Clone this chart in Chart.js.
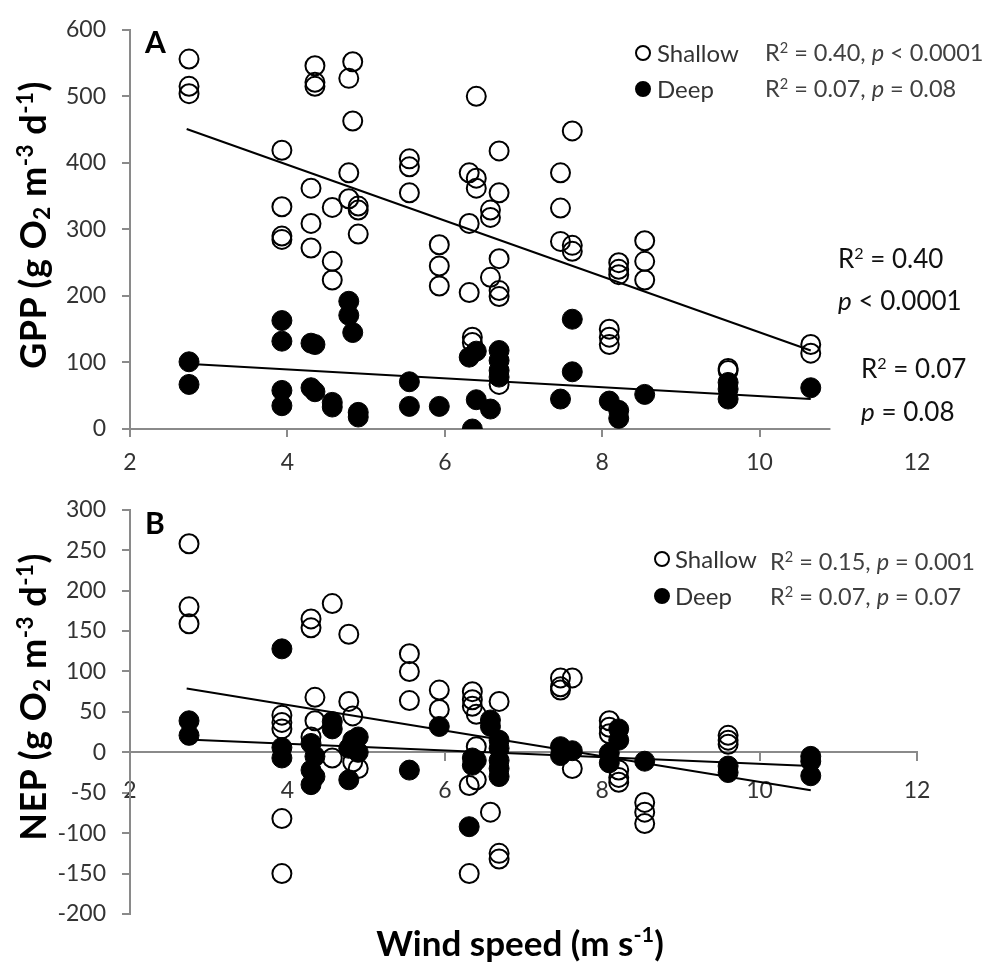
<!DOCTYPE html>
<html>
<head>
<meta charset="utf-8">
<script src="https://cdn.jsdelivr.net/npm/chart.js@4.4.0/dist/chart.umd.min.js"></script>
<style>
  body { margin: 0; background: #fff; font-family: Lato, sans-serif; }
  #wrap { position: relative; width: 992px; height: 963px; overflow: hidden; }
  canvas { position: absolute; left: 0; }
  .t { position: absolute; white-space: nowrap; color: #262626; line-height: 1; transform: translateY(-50%); }
  .t sup { font-size: 0.62em; vertical-align: 0.55em; line-height: 0; }
  .leg { font-size: 24px; color: #333; }
  .stat { font-size: 23.5px; color: #404040; }
  .big { font-size: 26px; color: #111; }
  .bold { font-weight: bold; color: #000; }
  .dot { position: absolute; width: 12px; height: 12px; border: 2px solid #000; border-radius: 50%; transform: translate(-50%, -50%); }
  .dot.fill { background: #000; }
  .ytitle { position: absolute; white-space: nowrap; font-weight: bold; font-size: 36px; letter-spacing: 0.5px; line-height: 1; transform: translate(-50%, -50%) rotate(-90deg); }
  .ytitle sup, .ytitle sub, .xtitle sup { font-size: 0.62em; line-height: 0; }
  .ytitle sup, .xtitle sup { vertical-align: 0.6em; }
  .ytitle sub { vertical-align: -0.2em; }
  .xtitle { position: absolute; white-space: nowrap; font-weight: bold; font-size: 35px; line-height: 1; transform: translate(-50%, -50%); }
</style>
</head>
<body>
<div id="wrap">
  <canvas id="gpp" width="992" height="480" style="top:0"></canvas>
  <canvas id="nep" width="992" height="483" style="top:480px"></canvas>

  <div class="t bold" style="left:145px; top:41px; font-size:30px">A</div>
  <div class="dot" style="left:643px; top:53px"></div>
  <div class="t leg" style="left:657px; top:53px">Shallow</div>
  <div class="dot fill" style="left:643px; top:89px"></div>
  <div class="t leg" style="left:657px; top:89px">Deep</div>
  <div class="t stat" style="left:765px; top:53px">R<sup>2</sup> = 0.40, <i>p</i> &lt; 0.0001</div>
  <div class="t stat" style="left:765px; top:89px">R<sup>2</sup> = 0.07, <i>p</i> = 0.08</div>
  <div class="t big" style="left:838px; top:258px">R<sup>2</sup> = 0.40</div>
  <div class="t big" style="left:838px; top:300px"><i>p</i> &lt; 0.0001</div>
  <div class="t big" style="left:861px; top:368px">R<sup>2</sup> = 0.07</div>
  <div class="t big" style="left:861px; top:411px"><i>p</i> = 0.08</div>

  <div class="t bold" style="left:145px; top:522px; font-size:30px">B</div>
  <div class="dot" style="left:662px; top:559px"></div>
  <div class="t leg" style="left:675px; top:559px">Shallow</div>
  <div class="dot fill" style="left:662px; top:596px"></div>
  <div class="t leg" style="left:675px; top:596px">Deep</div>
  <div class="t stat" style="left:770px; top:562px">R<sup>2</sup> = 0.15, <i>p</i> = 0.001</div>
  <div class="t stat" style="left:770px; top:597px">R<sup>2</sup> = 0.07, <i>p</i> = 0.07</div>

  <div class="ytitle" style="left:32px; top:225px">GPP (g O<sub>2</sub> m<sup>-3</sup> d<sup>-1</sup>)</div>
  <div class="ytitle" style="left:32px; top:697px">NEP (g O<sub>2</sub> m<sup>-3</sup> d<sup>-1</sup>)</div>
  <div class="xtitle" style="left:520px; top:942px">Wind speed (m s<sup>-1</sup>)</div>
</div>

<script>
// wind speed (m s-1) of each point, and the measured value at that wind speed
const gppShallowWind = [2.75, 2.75, 2.75, 3.93, 3.93, 3.93, 3.93, 4.3, 4.3, 4.3, 4.35, 4.35, 4.35,
  4.57, 4.57, 4.57, 4.78, 4.78, 4.78, 4.83, 4.83, 4.9, 4.9, 4.9, 5.55, 5.55, 5.55, 5.93, 5.93, 5.93,
  6.31, 6.31, 6.31, 6.35, 6.35, 6.4, 6.4, 6.4, 6.58, 6.58, 6.58, 6.69, 6.69, 6.69, 6.69, 6.69, 6.69,
  7.47, 7.47, 7.47, 7.62, 7.62, 7.62, 8.09, 8.09, 8.09, 8.21, 8.21, 8.21, 8.54, 8.54, 8.54,
  9.6, 9.6, 10.65, 10.65];
const gppShallow = [556, 515, 504, 419, 334, 290, 285, 362, 309, 272, 546, 521, 515,
  333, 252, 224, 527, 385, 346, 552, 463, 335, 329, 293, 406, 394, 355, 277, 245, 215,
  385, 309, 205, 138, 130, 500, 377, 362, 329, 318, 228, 418, 355, 256, 208, 199, 67,
  385, 332, 282, 448, 276, 267, 150, 138, 127, 250, 240, 232, 283, 252, 224,
  91, 88, 127, 114];

const gppDeepWind = [2.75, 2.75, 3.93, 3.93, 3.93, 3.93, 4.3, 4.3, 4.35, 4.35, 4.57, 4.57,
  4.78, 4.78, 4.83, 4.9, 4.9, 5.55, 5.55, 5.93, 6.31, 6.35, 6.4, 6.4, 6.58,
  6.69, 6.69, 6.69, 6.69, 7.47, 7.62, 7.62, 8.09, 8.21, 8.21, 8.54, 9.6, 9.6, 9.6, 10.65];
const gppDeep = [101, 67, 163, 132, 58, 35, 129, 62, 127, 56, 40, 33,
  192, 171, 145, 25, 18, 71, 34, 34, 108, 0, 117, 44, 30,
  118, 103, 88, 78, 45, 165, 86, 42, 28, 16, 52, 70, 60, 45, 62];

const nepShallowWind = [2.75, 2.75, 2.75, 3.93, 3.93, 3.93, 3.93, 3.93, 4.3, 4.3, 4.3, 4.35, 4.35,
  4.57, 4.57, 4.78, 4.78, 4.83, 4.83, 4.9, 5.55, 5.55, 5.55, 5.93, 5.93, 6.31, 6.31,
  6.35, 6.35, 6.35, 6.4, 6.4, 6.4, 6.58, 6.69, 6.69, 6.69, 7.47, 7.47, 7.47, 7.62, 7.62,
  8.09, 8.09, 8.09, 8.21, 8.21, 8.21, 8.54, 8.54, 8.54, 9.6, 9.6, 9.6];
const nepShallow = [258, 180, 159, 46, 37, 29, -82, -150, 165, 154, 19, 68, 39,
  184, -7, 146, 63, 45, -12, -20, 122, 100, 64, 77, 53, -41, -150,
  75, 65, 57, 47, 7, -34, -74, 63, -125, -132, 92, 81, 77, 92, -20,
  39, 31, 23, -22, -31, -37, -62, -74, -88, 21, 15, 10];

const nepDeepWind = [2.75, 2.75, 3.93, 3.93, 3.93, 4.3, 4.3, 4.3, 4.35, 4.35, 4.57, 4.57,
  4.78, 4.78, 4.83, 4.83, 4.9, 4.9, 5.55, 5.93, 6.31, 6.35, 6.35, 6.4, 6.58, 6.58,
  6.69, 6.69, 6.69, 6.69, 6.69, 7.47, 7.47, 7.62, 8.09, 8.09, 8.21, 8.21, 8.54,
  9.6, 9.6, 10.65, 10.65, 10.65];
const nepDeep = [39, 21, 128, 6, -7, 11, -22, -40, -5, -30, 38, 29,
  5, -34, 15, 10, 19, 0, -22, 32, -92, -7, -16, -10, 40, 32,
  15, 5, -10, -20, -30, 7, -4, 2, -1, -13, 29, 15, -11,
  -17, -25, -5, -11, -29];

// linear fits, start and end of each line
const fitWind = [2.72, 10.65];
const gppFitShallow = [451, 118];
const gppFitDeep = [98, 45];
const nepFitShallow = [79, -47];
const nepFitDeep = [16, -17];

const xTicks = [2, 4, 6, 8, 10, 12];

const GREY = '#8a8a8a';
const TICK_COLOR = '#333';

function pts(xs, ys) {
  return xs.map((x, i) => ({ x: x, y: ys[i] }));
}

// panel A has its x axis line stopping short of 12
const partialAxis = {
  id: 'partialAxis',
  beforeDatasetsDraw(chart, args, opts) {
    if (!opts.end) return;
    const { ctx, scales: { x, y } } = chart;
    const yy = y.getPixelForValue(0);
    ctx.save();
    ctx.strokeStyle = GREY;
    ctx.lineWidth = 2;
    ctx.beginPath();
    ctx.moveTo(x.left, yy);
    ctx.lineTo(x.getPixelForValue(opts.end), yy);
    ctx.stroke();
    ctx.restore();
  }
};

function makePanel(id, p) {
  return new Chart(document.getElementById(id), {
    type: 'scatter',
    data: {
      datasets: [
        { type: 'line', data: pts(fitWind, p.fitShallow), borderColor: '#000', borderWidth: 2, pointRadius: 0, order: 0 },
        { type: 'line', data: pts(fitWind, p.fitDeep), borderColor: '#000', borderWidth: 2, pointRadius: 0, order: 0 },
        { label: 'Deep', data: pts(p.deepX, p.deepY), pointRadius: 10, pointBorderWidth: 1,
          pointBorderColor: '#000', pointBackgroundColor: '#000', order: 1 },
        { label: 'Shallow', data: pts(p.shallowX, p.shallowY), pointRadius: 9.5, pointBorderWidth: 2,
          pointBorderColor: '#000', pointBackgroundColor: 'rgba(0,0,0,0)', order: 2 }
      ]
    },
    options: {
      responsive: false,
      animation: false,
      layout: { padding: p.padding },
      plugins: {
        legend: { display: false },
        tooltip: { enabled: false },
        partialAxis: { end: p.axisEnd }
      },
      scales: {
        x: {
          type: 'linear',
          min: 2,
          max: 12,
          position: p.xPosition,
          afterBuildTicks: s => { s.ticks = xTicks.map(v => ({ value: v })); },
          ticks: { font: { family: 'Lato', size: 23 }, color: TICK_COLOR, padding: p.xPad, maxRotation: 0 },
          grid: {
            drawOnChartArea: false,
            tickLength: 8,
            lineWidth: 2,
            color: c => (c.tick && c.tick.value > p.lastTick) ? 'rgba(0,0,0,0)' : GREY
          },
          border: { display: !p.axisEnd, color: GREY, width: 2 },
          afterFit: s => { if (p.xHeight) s.height = p.xHeight; }
        },
        y: {
          min: p.yMin,
          max: p.yMax,
          ticks: { stepSize: p.yStep, font: { family: 'Lato', size: 23 }, color: TICK_COLOR, padding: 16 },
          grid: { drawOnChartArea: false, tickLength: 8, lineWidth: 2, color: GREY },
          border: { color: GREY, width: 2 },
          afterFit: s => { s.width = 130; }
        }
      }
    },
    plugins: [partialAxis]
  });
}

makePanel('gpp', {
  shallowX: gppShallowWind, shallowY: gppShallow,
  deepX: gppDeepWind, deepY: gppDeep,
  fitShallow: gppFitShallow, fitDeep: gppFitDeep,
  yMin: 0, yMax: 600, yStep: 100,
  padding: { top: 20, right: 75, bottom: 0, left: 0 },
  xPosition: 'bottom', xHeight: 51, xPad: 12,
  axisEnd: 10.9, lastTick: 10
});

makePanel('nep', {
  shallowX: nepShallowWind, shallowY: nepShallow,
  deepX: nepDeepWind, deepY: nepDeep,
  fitShallow: nepFitShallow, fitDeep: nepFitDeep,
  yMin: -200, yMax: 300, yStep: 50,
  padding: { top: 23, right: 75, bottom: 49, left: 0 },
  xPosition: { y: 0 }, xHeight: 0, xPad: 16,
  axisEnd: 0, lastTick: 12
});
</script>
</body>
</html>
